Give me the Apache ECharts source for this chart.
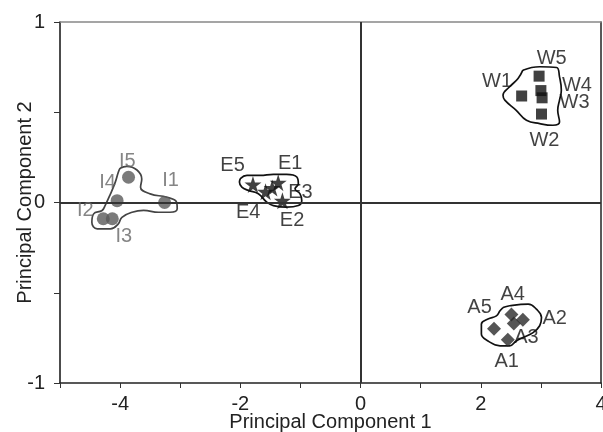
<!DOCTYPE html>
<html>
<head>
<meta charset="utf-8">
<script src="https://cdn.jsdelivr.net/npm/echarts@6/dist/echarts.min.js"></script>
<style>html,body{margin:0;padding:0;background:#fff}#c{width:603px;height:432px}</style>
</head>
<body>
<div id="c"></div>
<script>
// ---- data (principal component scores) ----
var groupI = [['I1',-3.26,0.00],['I2',-4.28,-0.09],['I3',-4.13,-0.09],['I4',-4.05,0.01],['I5',-3.86,0.14]];
var groupE = [['E1',-1.37,0.11],['E2',-1.30,0.01],['E3',-1.47,0.08],['E4',-1.58,0.06],['E5',-1.79,0.10]];
var groupW = [['W1',2.68,0.59],['W2',3.01,0.49],['W3',3.02,0.58],['W4',3.00,0.62],['W5',2.97,0.70]];
var groupA = [['A1',2.45,-0.76],['A2',2.70,-0.65],['A3',2.55,-0.67],['A4',2.51,-0.62],['A5',2.22,-0.70]];

// label anchor points (data units)
var labelsI = [['I1',-3.16,0.12],['I2',-4.58,-0.045],['I3',-3.94,-0.19],['I4',-4.21,0.11],['I5',-3.88,0.23]];
var labelsOther = [['E1',-1.17,0.215],['E2',-1.14,-0.10],['E3',-1.0,0.055],['E4',-1.87,-0.055],['E5',-2.13,0.205],
  ['W1',2.27,0.67],['W2',3.06,0.345],['W3',3.56,0.555],['W4',3.6,0.65],['W5',3.18,0.80],
  ['A1',2.43,-0.88],['A2',3.23,-0.64],['A3',2.76,-0.75],['A4',2.53,-0.51],['A5',1.98,-0.58]];

// group enclosure outlines (data units)
var hullI = [[-4.00,0.19],[-3.89,0.20],[-3.72,0.18],[-3.64,0.13],[-3.66,0.085],[-3.50,0.048],[-3.22,0.029],[-3.06,0.002],[-3.05,-0.035],[-3.17,-0.054],[-3.36,-0.054],[-3.61,-0.044],[-3.80,-0.054],[-3.97,-0.082],[-4.03,-0.118],[-4.16,-0.146],[-4.38,-0.146],[-4.47,-0.109],[-4.44,-0.063],[-4.30,-0.044],[-4.25,-0.017],[-4.16,0.048],[-4.08,0.113],[-4.03,0.168]];
var hullE = [[-2.00,0.132],[-1.89,0.150],[-1.67,0.150],[-1.45,0.156],[-1.23,0.156],[-1.06,0.141],[-1.035,0.104],[-1.09,0.076],[-1.007,0.048],[-0.978,0.011],[-1.035,-0.017],[-1.23,-0.026],[-1.45,-0.017],[-1.56,0.002],[-1.70,0.048],[-1.865,0.067],[-1.975,0.085],[-2.015,0.113]];
var hullW = [[2.70,0.733],[2.98,0.752],[3.26,0.748],[3.31,0.696],[3.34,0.622],[3.31,0.567],[3.28,0.511],[3.31,0.446],[3.20,0.428],[2.98,0.437],[2.76,0.456],[2.59,0.511],[2.40,0.567],[2.37,0.594],[2.48,0.641],[2.62,0.687]];
var hullA = [[2.37,-0.582],[2.48,-0.572],[2.79,-0.563],[2.925,-0.591],[3.01,-0.637],[2.98,-0.683],[2.87,-0.721],[2.70,-0.748],[2.59,-0.767],[2.48,-0.794],[2.32,-0.794],[2.12,-0.767],[2.01,-0.729],[2.01,-0.674],[2.12,-0.646],[2.26,-0.628],[2.32,-0.600]];

var xTickLabels = [-4,-2,0,2,4];
var yTickLabels = [-1,0,1];

// ---- chart ----
function pts(g){ return g.map(function(d){ return {name:d[0], value:[d[1],d[2]]}; }); }
function closed(h){ return h.concat([h[0]]); }
var font = 'Liberation Sans, Arial, sans-serif';
function hull(h, color){
  return {type:'line', data:closed(h), smooth:0.45, symbol:'none', silent:true,
    lineStyle:{color:color, width:1.7}, z:2};
}
function labelSeries(l, color){
  return {type:'scatter', data:pts(l), symbolSize:0, silent:true, z:5,
    label:{show:true, position:'inside', formatter:'{b}', color:color, fontSize:20, fontFamily:font}};
}
var chart = echarts.init(document.getElementById('c'), null, {renderer:'canvas'});
chart.setOption({
  animation:false,
  grid:{left:60, right:2, top:22, bottom:49, outerBoundsMode:'none', containLabel:false},
  xAxis:[{type:'value', min:-5, max:4, interval:1,
    name:'Principal Component 1', nameLocation:'middle', nameGap:29, nameMoveOverlap:false,
    nameTextStyle:{fontSize:20, color:'#222', fontFamily:font},
    axisLine:{show:true, onZero:false, lineStyle:{color:'#222', width:1.5}},
    axisTick:{show:true, length:5, lineStyle:{color:'#333'}},
    axisLabel:{fontSize:20, color:'#222', fontFamily:font, margin:11,
      formatter:function(v){ return xTickLabels.indexOf(v)>=0 ? String(v) : ''; }},
    splitLine:{show:false}},
    {type:'value', position:'top', min:-5, max:4, axisLine:{show:true, onZero:false, lineStyle:{color:'#888', width:1.5}},
     axisTick:{show:false}, axisLabel:{show:false}, splitLine:{show:false}}],
  yAxis:[{type:'value', min:-1, max:1, interval:0.5,
    name:'Principal Component 2', nameLocation:'middle', nameGap:25, nameMoveOverlap:false,
    nameTextStyle:{fontSize:20, color:'#222', fontFamily:font},
    axisLine:{show:true, onZero:false, lineStyle:{color:'#111', width:1.5}},
    axisTick:{show:true, length:6, lineStyle:{color:'#333'}},
    axisLabel:{fontSize:20, color:'#222', fontFamily:font, margin:15,
      formatter:function(v){ return yTickLabels.indexOf(v)>=0 ? String(v) : ''; }},
    splitLine:{show:false}},
    {type:'value', position:'right', min:-1, max:1, axisLine:{show:true, onZero:false, lineStyle:{color:'#222', width:1.5}},
     axisTick:{show:false}, axisLabel:{show:false}, splitLine:{show:false}}],
  series:[
    {type:'line', data:[], markLine:{silent:true, symbol:'none', label:{show:false},
      lineStyle:{color:'#333', width:2, type:'solid'},
      data:[{xAxis:0},{yAxis:0}]}, z:1},
    hull(hullI, '#444'), hull(hullE, '#111'), hull(hullW, '#111'), hull(hullA, '#111'),
    {type:'scatter', data:pts(groupI), symbol:'circle', symbolSize:13, itemStyle:{color:'#5a5a5a'}, z:3},
    {type:'scatter', data:pts(groupE), symbol:'path://M50,0 L61.8,36.3 L100,36.3 L69.1,58.8 L80.9,95.1 L50,72.6 L19.1,95.1 L30.9,58.8 L0,36.3 L38.2,36.3 Z', symbolSize:17, itemStyle:{color:'#111'}, z:3},
    {type:'scatter', data:pts(groupW), symbol:'rect', symbolSize:11, itemStyle:{color:'#111'}, z:3},
    {type:'scatter', data:pts(groupA), symbol:'diamond', symbolSize:14, itemStyle:{color:'#2a2a2a'}, z:3},
    labelSeries(labelsI, '#666'),
    labelSeries(labelsOther, '#111')
  ]
});
</script>
</body>
</html>
